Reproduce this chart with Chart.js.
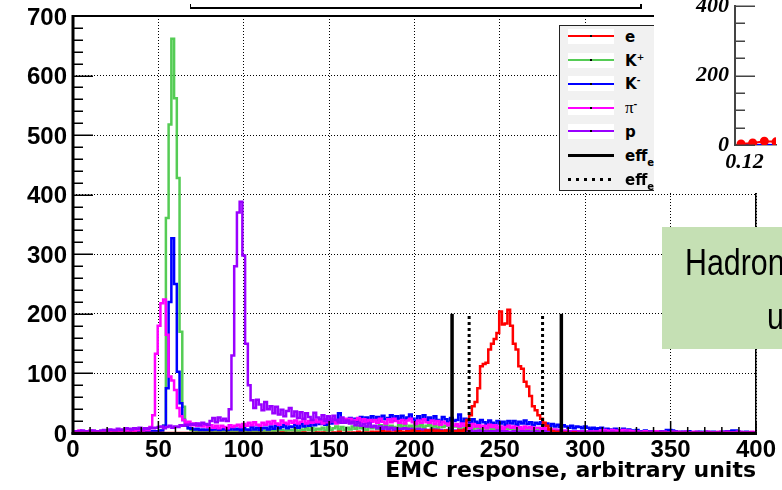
<!DOCTYPE html>
<html>
<head>
<meta charset="utf-8">
<script src="https://cdn.jsdelivr.net/npm/chart.js@4.4.1/dist/chart.umd.min.js"></script>
<style>
  html,body{margin:0;padding:0;background:#fff;}
  #wrap{position:relative;width:782px;height:490px;overflow:hidden;background:#fff;}
  #main{position:absolute;left:0;top:0;}
  #legend{position:absolute;left:559px;top:25px;width:140px;height:166px;background:#f1f1f1;border:1px solid #222;box-sizing:border-box;}
  .lrow{position:absolute;left:0;width:140px;height:20px;}
  .lbox{position:absolute;left:8px;top:2px;width:46px;height:15px;background:#fff;}
  .lline{position:absolute;left:0;top:6.5px;width:46px;height:2px;}
  .ldot{position:absolute;left:22px;top:6.5px;width:2px;height:2px;background:#000;}
  .lsolid{position:absolute;left:8px;top:8.5px;width:46px;height:3px;background:#000;}
  .ldotted{position:absolute;left:8px;top:8.5px;width:46px;height:3px;background:repeating-linear-gradient(90deg,#000 0 3px,transparent 3px 8px);}
  .ltext{position:absolute;left:65px;top:0;line-height:20px;font-family:"DejaVu Sans",sans-serif;font-weight:bold;font-size:15px;color:#000;white-space:nowrap;}
  .ltext sup{font-size:9px;vertical-align:6px;line-height:0;}
  .ltext sub{font-size:10px;vertical-align:-5px;line-height:0;}
  #topbar{position:absolute;left:190px;top:4px;width:449px;height:3px;border-bottom:2px solid #000;border-right:2px solid #000;border-left:1px solid #000;}
  #side{position:absolute;left:654px;top:0;width:128px;height:193px;background:#fff;overflow:hidden;}
  #green{position:absolute;left:662px;top:227px;width:120px;height:122px;background:#c5e0b4;overflow:hidden;}
  .gtext{position:absolute;font-family:"Liberation Sans",Arial,sans-serif;font-size:37px;line-height:54px;color:#000;white-space:nowrap;transform:scaleX(0.82);transform-origin:0 0;}
</style>
</head>
<body>
<div id="wrap">
  <canvas id="main" width="782" height="490"></canvas>
  <div id="topbar"></div>
  <div id="legend"></div>
  <div id="side"><canvas id="sideCanvas" width="128" height="193"></canvas></div>
  <div id="green">
    <div class="gtext" style="left:23px;top:9px;">Hadron</div>
    <div class="gtext" style="left:105px;top:63px;">u</div>
  </div>
</div>
<script>
// ---------------- data ----------------
const BIN_WIDTH = 1.6;          // EMC response units per histogram bin (250 bins over 0..400)
const X_MIN = 0, X_MAX = 400;
const Y_MIN = 0, Y_MAX = 700;
const xTickValues = [0, 50, 100, 150, 200, 250, 300, 350, 400];
const yTickValues = [0, 100, 200, 300, 400, 500, 600, 700];
const xAxisTitle = "EMC response, arbitrary units";

const eCounts = [
  0,0,0,0,0,0,0,0,0,0,
  0,0,0,0,0,0,0,0,0,0,
  0,0,0,0,0,0,0,0,0,0,
  0,0,0,0,0,0,0,0,0,0,
  0,0,0,0,0,0,0,0,0,0,
  0,0,0,0,0,0,0,0,0,0,
  0,0,0,0,0,0,0,0,0,0,
  0,0,0,0,0,0,1,0,0,0,
  0,0,0,0,1,0,0,0,0,1,
  0,1,0,0,0,1,0,2,0,0,
  1,0,1,0,2,0,1,1,0,2,
  1,2,0,3,1,2,1,0,2,3,
  2,1,3,2,4,2,3,1,2,4,
  3,5,2,4,3,2,4,3,2,3,
  3,4,3,6,22,30,45,52,75,112,
  116,118,140,150,158,168,204,182,184,207,
  180,150,140,112,108,86,78,62,45,38,
  30,24,17,12,6,3,2,2,1,0,
  1,0,0,1,0,0,0,0,0,0,
  0,0,0,0,0,0,0,0,0,0,
  0,0,0,0,0,0,0,0,0,0,
  0,0,0,0,0,0,0,0,0,0,
  0,0,0,0,0,0,0,0,0,0,
  0,0,0,0,0,0,0,0,0,0,
  0,0,0,0,0,0,0,0,0,0
];
const kPlusCounts = [
  0,0,1,0,0,1,0,0,1,0,
  0,1,0,1,0,0,1,0,1,0,
  1,0,1,2,1,1,2,1,2,2,
  2,2,4,12,361,518,662,562,428,170,
  44,15,8,5,4,3,4,2,3,3,
  2,3,2,3,2,4,3,2,3,2,
  3,2,3,3,4,2,3,4,3,3,
  4,3,5,3,4,4,5,3,4,5,
  4,7,3,6,4,8,5,9,4,7,
  6,9,4,10,5,8,11,6,10,5,
  9,6,11,7,12,8,10,5,11,8,
  11,7,13,8,14,9,12,10,8,13,
  10,14,9,12,8,14,11,13,9,12,
  13,9,12,8,14,10,12,13,8,11,
  11,7,12,8,10,13,7,11,9,6,
  9,6,10,7,9,5,8,6,9,7,
  7,5,8,6,4,7,5,8,4,6,
  5,3,6,4,5,3,5,2,4,3,
  3,2,3,2,2,3,2,1,2,2,
  1,2,1,2,1,1,2,1,1,1,
  1,1,2,1,1,3,2,1,1,2,
  3,2,1,1,1,0,1,1,0,1,
  0,1,0,0,1,0,0,1,0,0,
  0,0,1,0,0,0,0,1,0,0,
  0,0,0,1,0,0,0,0,0,0
];
const kMinusCounts = [
  2,3,1,2,2,1,3,2,1,2,
  1,2,1,1,2,1,2,1,1,2,
  1,2,1,2,2,1,3,2,2,3,
  3,2,4,12,75,220,327,250,103,50,
  22,12,8,7,6,7,5,6,5,6,
  5,6,7,5,6,7,5,6,8,6,
  7,4,9,6,5,10,6,9,5,8,
  9,6,11,7,12,8,10,13,8,11,
  10,14,9,15,11,16,12,17,13,18,
  15,19,14,21,16,22,18,33,17,23,
  19,25,18,24,20,27,21,26,19,28,
  22,27,20,29,23,25,30,21,28,24,
  29,22,26,31,24,20,28,23,30,22,
  26,21,28,22,19,27,23,18,25,20,
  22,31,19,24,20,17,23,19,16,22,
  18,15,21,17,14,20,16,19,14,20,
  16,20,14,19,16,21,15,18,13,17,
  15,18,13,16,12,15,11,14,10,13,
  11,9,12,8,11,10,8,11,9,7,
  9,7,8,9,5,7,6,4,7,5,
  5,7,3,6,4,2,5,3,2,4,
  3,1,3,2,1,3,2,5,5,4,
  3,1,2,0,2,3,1,1,0,2,
  1,2,0,1,2,1,0,1,2,3,
  3,4,4,2,1,0,2,1,0,1
];
const piMinusCounts = [
  3,2,4,3,2,3,4,2,3,2,
  3,4,2,3,5,3,4,3,5,4,
  4,5,3,5,6,4,6,5,10,30,
  133,180,218,224,165,95,88,72,42,28,
  22,17,19,13,16,12,15,11,14,10,
  13,9,12,8,12,10,8,13,10,12,
  14,10,15,12,17,13,18,14,12,17,
  14,19,15,20,16,14,21,17,15,20,
  17,21,16,19,23,16,20,17,22,18,
  21,16,23,18,24,19,16,22,18,24,
  19,24,17,22,25,18,23,17,22,19,
  22,17,24,19,16,23,18,24,20,17,
  22,16,21,24,18,15,21,17,23,18,
  17,21,15,20,14,19,16,13,17,12,
  15,11,16,12,14,9,15,11,13,10,
  12,8,14,10,13,9,11,7,10,12,
  9,11,8,10,7,11,8,10,7,9,
  9,6,8,5,7,4,6,3,5,3,
  4,3,3,2,3,2,3,2,2,3,
  2,3,2,4,5,4,3,5,4,3,
  4,5,3,4,3,2,3,2,2,3,
  2,1,2,3,2,1,2,1,1,2,
  1,2,1,1,2,1,1,2,1,1,
  1,1,2,1,1,1,2,1,1,2,
  1,1,1,2,1,1,1,1,2,1
];
const protonCounts = [
  2,3,2,4,3,2,3,4,3,2,
  4,5,3,6,5,4,7,5,6,8,
  7,6,8,7,9,6,8,7,9,8,
  9,10,11,8,10,12,9,11,10,13,
  12,14,13,15,14,16,13,17,15,14,
  20,25,18,26,21,24,20,40,130,280,
  370,388,298,150,80,55,42,56,48,38,
  52,40,45,33,44,31,39,28,37,42,
  28,36,25,35,24,33,27,22,34,26,
  23,30,20,28,19,29,22,18,26,17,
  21,16,19,13,17,12,15,11,16,10,
  12,8,11,7,10,6,9,5,8,6,
  7,8,6,7,5,6,7,5,6,5,
  5,4,6,4,5,3,4,5,3,4,
  4,3,4,3,3,4,2,3,4,3,
  3,2,3,3,2,4,3,2,3,2,
  2,3,2,2,3,2,3,2,2,3,
  2,2,3,2,2,1,2,3,2,2,
  2,2,1,2,2,1,2,1,2,2,
  1,2,1,1,2,1,1,2,1,1,
  1,1,2,1,1,1,2,1,1,1,
  1,2,1,1,1,2,1,1,1,2,
  1,1,1,2,1,1,1,1,2,1,
  1,1,2,1,1,1,1,2,1,1,
  1,1,1,1,2,1,1,1,1,1
];
const seriesLabels = ["e", "K<sup>+</sup>", "K<sup>-</sup>", "<span style=\"font-family:'Liberation Serif',serif;font-weight:normal;font-size:17px\">π</span><sup>-</sup>", "p"];
const seriesColors = ["#ff0000", "#55cc55", "#0000ff", "#ff00ff", "#9900ff"];
const seriesCounts = [eCounts, kPlusCounts, kMinusCounts, piMinusCounts, protonCounts];
const seriesOrder  = [0, 5, 3, 2, 1];

// efficiency cut positions (EMC units) and their drawn height (counts)
const effSolidCuts  = [222, 286];
const effDottedCuts = [232, 275];
const effCutHeight  = 200;
const effLabels = ["eff<sub>e</sub>", "eff<sub>e</sub>"];

// fragment of the neighbouring plot (top right)
const sideX     = [0.1185, 0.1235, 0.1285, 0.1335];
const sideRed   = [3, 6, 11, 9];
const sideBlue  = [0, 0, 1, 0];
const sideYTicks = [0, 200, 400];

// ---------------- main chart ----------------
function histPoints(counts) {
  const pts = counts.map((c, i) => ({x: X_MIN + i * BIN_WIDTH, y: c}));
  pts.push({x: X_MAX, y: counts[counts.length - 1]});
  return pts;
}
const datasets = seriesCounts.map((counts, k) => ({
  label: seriesLabels[k],
  data: histPoints(counts),
  borderColor: seriesColors[k],
  backgroundColor: seriesColors[k],
  borderWidth: 2.5,
  pointRadius: 0,
  stepped: true,
  fill: false,
  order: seriesOrder[k]
}));
effSolidCuts.forEach(v => datasets.push({
  data: [{x: v, y: 0}, {x: v, y: effCutHeight}],
  borderColor: "#000", borderWidth: 3.5, pointRadius: 0, order: -1
}));
effDottedCuts.forEach(v => datasets.push({
  data: [{x: v, y: 0}, {x: v, y: effCutHeight}],
  borderColor: "#000", borderWidth: 3, borderDash: [3, 3], pointRadius: 0, order: -1
}));

const frameTicks = {
  id: "frameTicks",
  afterDraw(chart) {
    const {ctx, chartArea: a, scales: {x, y}} = chart;
    ctx.save();
    ctx.fillStyle = "#000";
    ctx.fillRect(a.left - 1.5, a.top - 1, 3, a.bottom - a.top + 2.5);
    ctx.fillRect(a.left - 1.5, a.bottom - 1, a.right - a.left + 2.5, 3);
    ctx.fillRect(a.left, a.top - 1, a.right - a.left, 2);
    ctx.fillRect(a.right - 1, a.top, 1.5, a.bottom - a.top);
    ctx.strokeStyle = "#000";
    ctx.lineWidth = 1.5;
    ctx.beginPath();
    for (let v = Y_MIN; v <= Y_MAX; v += 20) {
      const py = Math.round(y.getPixelForValue(v)) + 0.25;
      const len = (v % 100 === 0) ? 20 : 10;
      ctx.moveTo(a.left, py); ctx.lineTo(a.left + len, py);
    }
    for (let v = X_MIN; v <= X_MAX; v += 10) {
      const px = x.getPixelForValue(v);
      const len = (v % 50 === 0) ? 12 : 6;
      ctx.moveTo(px, a.bottom); ctx.lineTo(px, a.bottom - len);
    }
    ctx.stroke();
    ctx.restore();
  }
};

const tickFont = {family: "'Liberation Sans', Arial, sans-serif", size: 24, weight: "bold"};
new Chart(document.getElementById("main"), {
  type: "line",
  data: {datasets},
  options: {
    responsive: false,
    animation: false,
    events: [],
    layout: {padding: {top: 16, right: 26, bottom: 0, left: 0}},
    plugins: {legend: {display: false}, tooltip: {enabled: false}},
    scales: {
      x: {
        type: "linear", min: X_MIN, max: X_MAX,
        afterBuildTicks: s => { s.ticks = xTickValues.map(v => ({value: v})); },
        ticks: {font: tickFont, color: "#000", padding: 3, maxRotation: 0, autoSkip: false},
        grid: {color: "#000", lineWidth: 1, drawTicks: false},
        border: {display: false, dash: [1, 2]},
        title: {display: true, text: xAxisTitle, align: "end", color: "#000",
                font: {family: "'DejaVu Sans', sans-serif", size: 22, weight: "bold"},
                padding: {top: 0, bottom: 6}},
        afterFit: s => { s.height = 57; s.paddingLeft = 0; s.paddingRight = 0; }
      },
      y: {
        type: "linear", min: Y_MIN, max: Y_MAX,
        afterBuildTicks: s => { s.ticks = yTickValues.map(v => ({value: v})); },
        ticks: {font: tickFont, color: "#000", padding: 6, labelOffset: 2},
        grid: {color: "#000", lineWidth: 1, drawTicks: false},
        border: {display: false, dash: [1, 2]},
        afterFit: s => { s.width = 73; s.paddingTop = 0; s.paddingBottom = 0; }
      }
    }
  },
  plugins: [frameTicks]
});

// ---------------- legend (HTML) ----------------
(function buildLegend() {
  const lg = document.getElementById("legend");
  const rows = [];
  seriesLabels.forEach((lab, k) => rows.push({kind: "hist", color: seriesColors[k], label: lab}));
  rows.push({kind: "solid", label: effLabels[0]});
  rows.push({kind: "dotted", label: effLabels[1]});
  rows.forEach((r, i) => {
    const row = document.createElement("div");
    row.className = "lrow";
    row.style.top = (10.7 + i * 23.8 - 10) + "px";
    let sample = "";
    if (r.kind === "hist") {
      sample = '<div class="lbox"><div class="lline" style="background:' + r.color + '"></div><div class="ldot"></div></div>';
    } else if (r.kind === "solid") {
      sample = '<div class="lsolid"></div>';
    } else {
      sample = '<div class="ldotted"></div>';
    }
    row.innerHTML = sample + '<div class="ltext">' + r.label + '</div>';
    lg.appendChild(row);
  });
})();

// ---------------- side fragment chart ----------------
const sideTicks = {
  id: "sideTicks",
  afterDraw(chart) {
    const {ctx, chartArea: a, scales: {y}} = chart;
    ctx.save();
    ctx.strokeStyle = "#444";
    ctx.lineWidth = 1.5;
    ctx.beginPath();
    for (let v = 0; v <= 400; v += 50) {
      const py = Math.round(y.getPixelForValue(v)) + 0.25;
      const len = (v % 200 === 0) ? 20 : 10;
      ctx.moveTo(a.left, py); ctx.lineTo(a.left + len, py);
    }
    ctx.stroke();
    ctx.restore();
  }
};
const sideFont = {family: "'Liberation Serif', 'Times New Roman', serif", size: 22, weight: "bold", style: "italic"};
new Chart(document.getElementById("sideCanvas"), {
  type: "line",
  data: {datasets: [
    {data: sideX.map((x, i) => ({x, y: sideRed[i]})), borderColor: "#ff0000", backgroundColor: "#ff0000",
     borderWidth: 2, pointRadius: 3.5, pointStyle: "circle", order: 0},
    {data: sideX.map((x, i) => ({x, y: sideBlue[i]})), borderColor: "#0000ff", backgroundColor: "#0000ff",
     borderWidth: 2, pointRadius: 2.5, pointStyle: "rect", order: 1}
  ]},
  options: {
    responsive: false, animation: false, events: [],
    layout: {padding: 0},
    plugins: {legend: {display: false}, tooltip: {enabled: false}},
    scales: {
      x: {
        type: "linear", min: 0.1159, max: 0.1335,
        afterBuildTicks: s => { s.ticks = [{value: 0.12}]; },
        ticks: {font: sideFont, color: "#000", padding: 4, maxRotation: 0, autoSkip: false, callback: v => v.toFixed(2)},
        grid: {display: false, drawTicks: false},
        border: {display: true, color: "#444", width: 1.5},
        afterFit: s => { s.height = 48; s.paddingLeft = 0; s.paddingRight = 0; }
      },
      y: {
        type: "linear", min: 0, max: 400,
        afterBuildTicks: s => { s.ticks = sideYTicks.map(v => ({value: v})); },
        ticks: {font: sideFont, color: "#000", padding: 6},
        grid: {display: false, drawTicks: false},
        border: {display: true, color: "#444", width: 2},
        afterFit: s => { s.width = 81; s.paddingTop = 0; s.paddingBottom = 0; }
      }
    }
  },
  plugins: [sideTicks]
});
</script>
</body>
</html>
